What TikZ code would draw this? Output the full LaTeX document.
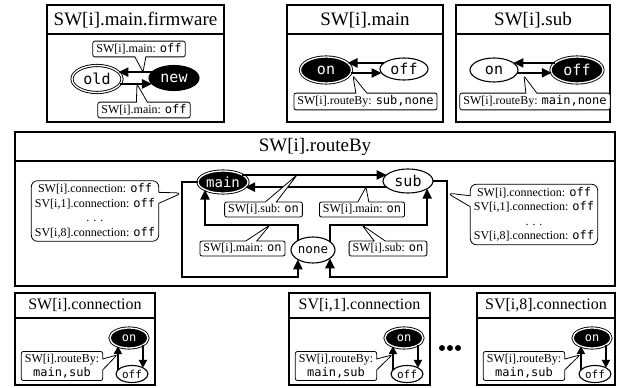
\documentclass[tikz,border=0pt]{standalone}
\usepackage{fontspec}
\setmainfont{Liberation Serif}
\setmonofont{DejaVu Sans Mono}
\usetikzlibrary{arrows.meta,positioning,calc,shapes.geometric,shapes.callouts}

\begin{document}
\begin{tikzpicture}[
  x=1pt,y=-1pt,
  every node/.style={inner sep=0pt,outer sep=0pt},
  panel/.style={draw,line width=1.8pt},
  ttl/.style={font=\fontsize{19}{21}\selectfont},
  ttlsm/.style={font=\fontsize{16}{18}\selectfont},
  st/.style={ellipse,draw,line width=1.1pt,fill=white,font=\ttfamily\fontsize{15}{15}\selectfont},
  dst/.style={st,double=white,double distance=1.3pt,line width=0.9pt},
  dark/.style={fill=black,text=white},
  note/.style={rectangle callout,draw,line width=0.8pt,fill=white,rounded corners=2pt,inner xsep=3.5pt,inner ysep=2.5pt,callout pointer width=11pt,font=\fontsize{12}{14}\selectfont},
  bignote/.style={note,rounded corners=6pt,align=center,inner ysep=3pt,font=\fontsize{12}{14.5}\selectfont},
  arr/.style={-{Triangle[length=10pt,width=9pt]},line width=2.3pt},
  sarr/.style={-{Triangle[length=8pt,width=8pt]},line width=2pt}
]
\useasboundingbox (0,0) rectangle (619,388);

% SW[i].main.firmware
\draw[panel] (47,5) rectangle (224,122);
\draw[panel] (47,34) -- (224,34);
\node[ttl] (fwttl) at (135.5,20) {SW[i].main.firmware};
\node[dst,minimum width=50pt,minimum height=27pt] (old) at (97,79) {old};
\node[st,dark,minimum width=50pt,minimum height=25pt] (new) at (174,78) {new};
\draw[arr] (new.165) -- (new.165 -| old.18);
\draw[arr] (old.-12) -- (old.-12 -| new.195);
\node[note,callout absolute pointer={(143,72)}] (fwlbla) at (139,49) {SW[i].main: \texttt{off}};
\node[note,callout absolute pointer={(137,84)}] (fwlblb) at (144,110) {SW[i].main: \texttt{off}};

% SW[i].main
\draw[panel] (287,5) rectangle (443,122);
\draw[panel] (287,34) -- (443,34);
\node[ttl] (mttl) at (365,20) {SW[i].main};
\node[dst,dark,minimum width=51pt,minimum height=26pt] (mon) at (326,70) {on};
\node[st,minimum width=48pt,minimum height=22pt] (moff) at (404,69) {off};
\draw[arr] (moff.163) -- (moff.163 -| mon.18);
\draw[arr] (mon.-7) -- (mon.-7 -| moff.190);
\node[note,callout absolute pointer={(353,76)}] (mlbl) at (365.5,101.5) {SW[i].routeBy: \texttt{sub,none}};

% SW[i].sub
\draw[panel] (456,5) rectangle (610,122);
\draw[panel] (456,34) -- (610,34);
\node[ttl] (sttl) at (533,20) {SW[i].sub};
\node[st,minimum width=48pt,minimum height=24pt] (son) at (494,70) {on};
\node[dst,dark,minimum width=52pt,minimum height=26pt] (soff) at (577,70) {off};
\draw[arr] (soff.162) -- (soff.162 -| son.20);
\draw[arr] (son.-7) -- (son.-7 -| soff.187);
\node[note,callout absolute pointer={(524,76)}] (slbl) at (535,101.5) {SW[i].routeBy: \texttt{main,none}};

% SW[i].routeBy
\draw[panel] (15,132) rectangle (615,286);
\draw[panel] (15,161) -- (615,161);
\node[ttl] (rttl) at (315,147) {SW[i].routeBy};
\node[dst,dark,minimum width=50pt,minimum height=22pt,font=\ttfamily\fontsize{14}{14}\selectfont] (rmain) at (223,182) {main};
\node[st,minimum width=50pt,minimum height=24pt] (rsub) at (408,181) {sub};
\node[st,minimum width=44pt,minimum height=26pt,font=\ttfamily\fontsize{12.5}{12.5}\selectfont] (rnone) at (313,250) {none};
\draw[arr] (rmain.20) -- (rmain.20 -| rsub.164);
\draw[arr] (rsub.196) -- (rsub.196 -| rmain.-13);
\draw[arr] (rnone.148) |- (rmain.203 |- 0,225) -- (rmain.203);
\draw[arr] (rnone.26) |- (rsub.-22 |- 0,225) -- (rsub.-22);
\draw[arr] (rmain.west) -| (182,277) -| (rnone.212);
\draw[arr] (rsub.east) -| (447,277) -| (rnone.-26);
\node[note,callout absolute pointer={(297,175)}] (rlbla) at (263.5,209.5) {SW[i].sub: \texttt{on}};
\node[note,callout absolute pointer={(366,187)}] (rlblb) at (362,209.5) {SW[i].main: \texttt{on}};
\node[note,callout absolute pointer={(270,225)}] (rlblc) at (242.5,248.5) {SW[i].main: \texttt{on}};
\node[note,callout absolute pointer={(362,225)}] (rlbld) at (388,248.5) {SW[i].sub: \texttt{on}};
\node[bignote,callout absolute pointer={(182,193)}] (rconl) at (95,211)
  {SW[i].connection: \texttt{off}\\SV[i,1].connection: \texttt{off}\\. . .\\SV[i,8].connection: \texttt{off}};
\node[bignote,callout absolute pointer={(447,193)}] (rconr) at (534,214.5)
  {SW[i].connection: \texttt{off}\\SV[i,1].connection: \texttt{off}\\. . .\\SV[i,8].connection: \texttt{off}};

% SW[i].connection
\draw[panel] (15,293) rectangle (155,385);
\draw[panel] (15,318) -- (155,318);
\node[ttlsm] (c0ttl) at (85,305.5) {SW[i].connection};
\node[dst,dark,minimum width=38pt,minimum height=20pt,font=\ttfamily\fontsize{12}{12}\selectfont] (c0on) at (129,338) {on};
\node[st,minimum width=32pt,minimum height=17pt,font=\ttfamily\fontsize{11}{11}\selectfont] (c0off) at (132,374) {off};
\draw[sarr] (c0off.164) -- (c0off.164 |- c0on.216);
\draw[sarr] (c0on.-26) -- (c0on.-26 |- c0off.29);
\node[note,align=center,callout absolute pointer={(117,355)}] (c0lbl) at (62,366) {SW[i].routeBy:\\\texttt{main,sub}};

% SV[i,1].connection
\draw[panel] (289,293) rectangle (430,385);
\draw[panel] (289,318) -- (430,318);
\node[ttlsm] (c1ttl) at (359.5,305.5) {SV[i,1].connection};
\node[dst,dark,minimum width=38pt,minimum height=20pt,font=\ttfamily\fontsize{12}{12}\selectfont] (c1on) at (404,338) {on};
\node[st,minimum width=32pt,minimum height=17pt,font=\ttfamily\fontsize{11}{11}\selectfont] (c1off) at (407,374) {off};
\draw[sarr] (c1off.164) -- (c1off.164 |- c1on.216);
\draw[sarr] (c1on.-26) -- (c1on.-26 |- c1off.29);
\node[note,align=center,callout absolute pointer={(392,355)}] (c1lbl) at (336,366) {SW[i].routeBy:\\\texttt{main,sub}};

% dots
\fill (442,348) circle (3);
\fill (450,348) circle (3);
\fill (458,348) circle (3);

% SV[i,8].connection
\draw[panel] (477,293) rectangle (615,385);
\draw[panel] (477,318) -- (615,318);
\node[ttlsm] (c8ttl) at (546,305.5) {SV[i,8].connection};
\node[dst,dark,minimum width=38pt,minimum height=20pt,font=\ttfamily\fontsize{12}{12}\selectfont] (c8on) at (592,338) {on};
\node[st,minimum width=32pt,minimum height=17pt,font=\ttfamily\fontsize{11}{11}\selectfont] (c8off) at (595,374) {off};
\draw[sarr] (c8off.164) -- (c8off.164 |- c8on.216);
\draw[sarr] (c8on.-26) -- (c8on.-26 |- c8off.29);
\node[note,align=center,callout absolute pointer={(580,355)}] (c8lbl) at (524,366) {SW[i].routeBy:\\\texttt{main,sub}};
\end{tikzpicture}
\end{document}
